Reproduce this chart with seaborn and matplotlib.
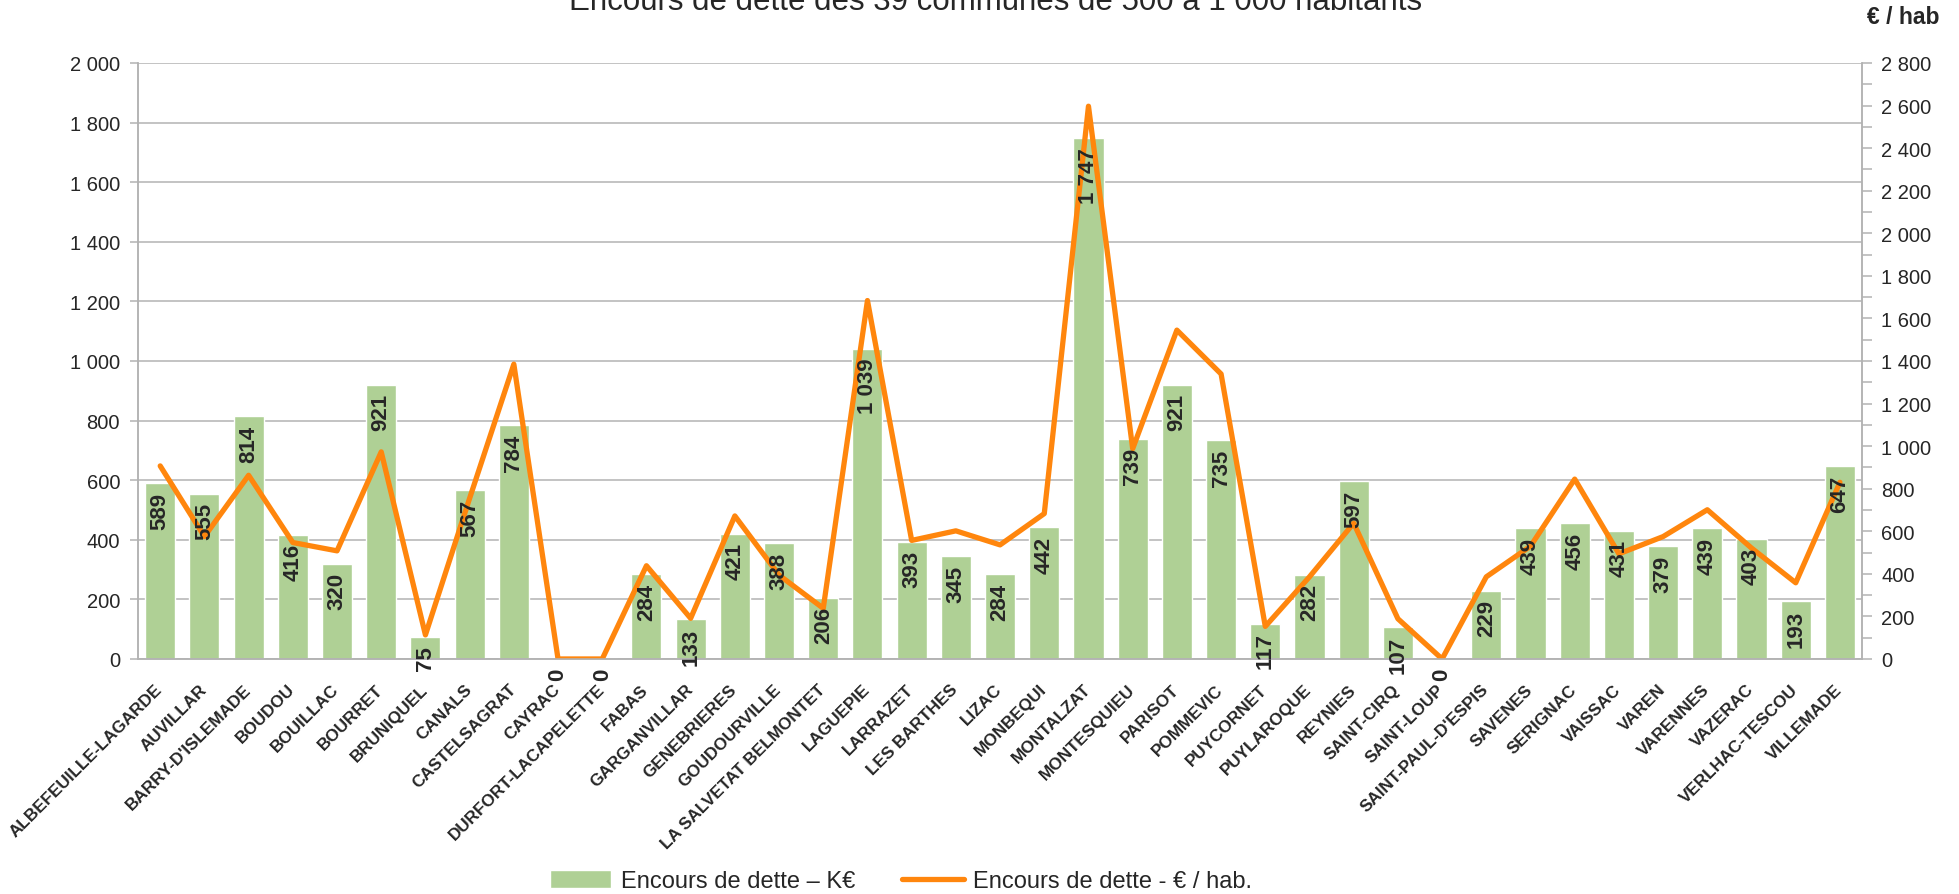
import matplotlib
matplotlib.use('Agg')
import matplotlib.pyplot as plt
import matplotlib.transforms as mtransforms
from matplotlib.ticker import FuncFormatter, MultipleLocator
import seaborn as sns
import numpy as np

# Data
communes = ['ALBEFEUILLE-LAGARDE', 'AUVILLAR', "BARRY-D'ISLEMADE", 'BOUDOU', 'BOUILLAC',
            'BOURRET', 'BRUNIQUEL', 'CANALS', 'CASTELSAGRAT', 'CAYRAC',
            'DURFORT-LACAPELETTE', 'FABAS', 'GARGANVILLAR', 'GENEBRIERES', 'GOUDOURVILLE',
            'LA SALVETAT BELMONTET', 'LAGUEPIE', 'LARRAZET', 'LES BARTHES', 'LIZAC',
            'MONBEQUI', 'MONTALZAT', 'MONTESQUIEU', 'PARISOT', 'POMMEVIC',
            'PUYCORNET', 'PUYLAROQUE', 'REYNIES', 'SAINT-CIRQ', 'SAINT-LOUP',
            "SAINT-PAUL-D'ESPIS", 'SAVENES', 'SERIGNAC', 'VAISSAC', 'VAREN',
            'VARENNES', 'VAZERAC', 'VERLHAC-TESCOU', 'VILLEMADE']
dette_k = [589, 555, 814, 416, 320, 921, 75, 567, 784, 0,
           0, 284, 133, 421, 388, 206, 1039, 393, 345, 284,
           442, 1747, 739, 921, 735, 117, 282, 597, 107, 0,
           229, 439, 456, 431, 379, 439, 403, 193, 647]
dette_hab = [907, 575, 863, 547, 508, 973, 113, 755, 1385, 0,
             0, 438, 191, 672, 394, 238, 1684, 557, 602, 536,
             683, 2597, 988, 1545, 1339, 153, 386, 638, 189, 0,
             386, 530, 845, 494, 575, 701, 521, 358, 830]

title = "Encours de dette des 39 communes de 500 à 1 000 habitants"
label_bar = "Encours de dette – K€"
label_line = "Encours de dette - € / hab."

green = '#afd095'
orange = '#ff860d'
grid_col = '#b3b3b3'

sns.set_style('white')
plt.rcParams['font.family'] = ['Liberation Sans', 'DejaVu Sans']

fig = plt.figure(figsize=(19.59, 8.95), dpi=100)
ax = fig.add_axes([0.0705, 0.2626, 0.9505 - 0.0705, 0.9285 - 0.2626])

sns.barplot(x=communes, y=dette_k, color=green, saturation=1, width=0.68, ax=ax,
            label=label_bar)

ax2 = ax.twinx()
n = len(communes)
sns.lineplot(x=np.arange(n), y=dette_hab, color=orange, linewidth=3.8, ax=ax2,
             label=label_line, legend=False)

fmt = FuncFormatter(lambda v, p: f"{int(round(v)):,}".replace(",", " "))

ax.set_xlim(-0.5, n - 0.5)
ax.set_ylim(0, 2000)
ax.yaxis.set_major_locator(MultipleLocator(200))
ax.yaxis.set_major_formatter(fmt)
ax2.set_ylim(0, 2800)
ax2.yaxis.set_major_locator(MultipleLocator(200))
ax2.yaxis.set_minor_locator(MultipleLocator(100))
ax2.yaxis.set_major_formatter(fmt)

ax.grid(True, axis='y', color=grid_col, linewidth=1.1)
ax.set_axisbelow(True)
ax.set_xlabel('')
ax.set_ylabel('')
ax2.set_ylabel('')

for a in (ax, ax2):
    a.spines['top'].set_visible(False)
    for s in ('left', 'right', 'bottom'):
        a.spines[s].set_color(grid_col)
        a.spines[s].set_linewidth(1.1)

ax.tick_params(axis='y', which='major', length=6, color=grid_col, width=1.1,
               labelsize=14.5, pad=7)
ax2.tick_params(axis='y', which='both', length=7, color=grid_col, width=1.1,
                labelsize=14.5, pad=7, direction='out')

# category boundary ticks on the x axis
ax.set_xticks(np.arange(n))
ax.set_xticks(np.arange(-0.5, n, 1), minor=True)
ax.tick_params(axis='x', which='major', length=0, pad=16)
ax.tick_params(axis='x', which='minor', length=7, color=grid_col, width=1.1)
ax.set_xticklabels(communes, rotation=45, ha='right', va='top',
                   fontsize=12.3, fontweight='bold')
shift = mtransforms.ScaledTranslation(5 / 100, 0, fig.dpi_scale_trans)
for lab in ax.get_xticklabels():
    lab.set_transform(lab.get_transform() + shift)

# bar value labels (drawn above the line)
for i, v in enumerate(dette_k):
    txt = f"{v:,}".replace(",", " ")
    ax2.annotate(txt, xy=(i, v), xycoords=ax.transData, xytext=(0, -6),
                 textcoords='offset points', rotation=90, ha='center', va='top',
                 fontsize=16, fontweight='bold', annotation_clip=False)

fig.text(0.508, 1 - 10 / 895, title, ha='center', va='baseline', fontsize=22.5)
fig.text(0.9714, 1 - 17 / 895, "€ / hab", ha='center', va='center', fontsize=16.5,
         fontweight='bold')

h1, l1 = ax.get_legend_handles_labels()
h2, l2 = ax2.get_legend_handles_labels()
if ax.get_legend() is not None:
    ax.get_legend().remove()
fig.legend(h1 + h2, l1 + l2, loc='center', bbox_to_anchor=(0.46, 1 - 882 / 895),
           ncol=2, frameon=False, fontsize=17, handlelength=2.6,
           handleheight=0.8, handletextpad=0.4, columnspacing=2.0)

fig.savefig('out.png', dpi=100)
